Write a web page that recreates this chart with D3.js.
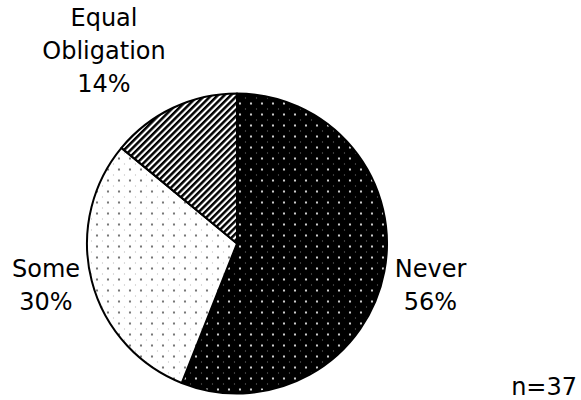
<!DOCTYPE html>
<html>
<head>
<meta charset="utf-8">
<script src="https://cdn.jsdelivr.net/npm/d3@7"></script>
<style>
  html, body { margin: 0; padding: 0; background: #fff; }
  svg { display: block; }
  text { font-family: "DejaVu Sans", Verdana, sans-serif; font-size: 24px; fill: #000; }
</style>
</head>
<body>
<svg id="chart" width="581" height="400"></svg>
<script>
// Answers (in drawing order, clockwise from 12 o'clock)
const categories = ["Never", "Some", "Equal Obligation"];
const percents = [56, 30, 14];
const patterns = ["dotsDark", "dotsLight", "hatch"];
// Label lines per slice (category words + value)
const labelLines = [["Never"], ["Some"], ["Equal", "Obligation"]];
const sampleNote = "n=37";

const svg = d3.select("#chart");
const defs = svg.append("defs");

// Black field with white dots
const pd = defs.append("pattern").attr("id", "dotsDark")
  .attr("patternUnits", "userSpaceOnUse").attr("width", 11).attr("height", 11);
pd.append("rect").attr("width", 11).attr("height", 11).attr("fill", "#000");
pd.append("circle").attr("cx", 3).attr("cy", 3).attr("r", 1.1).attr("fill", "#fff");
pd.append("circle").attr("cx", 8.5).attr("cy", 8.5).attr("r", 0.6).attr("fill", "#888");

// White field with grey dots
const pl = defs.append("pattern").attr("id", "dotsLight")
  .attr("patternUnits", "userSpaceOnUse").attr("width", 11).attr("height", 11);
pl.append("rect").attr("width", 11).attr("height", 11).attr("fill", "#fff");
pl.append("circle").attr("cx", 3).attr("cy", 3).attr("r", 1.1).attr("fill", "#555");
pl.append("circle").attr("cx", 8.5).attr("cy", 8.5).attr("r", 0.6).attr("fill", "#aaa");

// Diagonal stripes
const ph = defs.append("pattern").attr("id", "hatch")
  .attr("patternUnits", "userSpaceOnUse").attr("width", 4.6).attr("height", 4.6)
  .attr("patternTransform", "rotate(45)");
ph.append("rect").attr("width", 4.6).attr("height", 4.6).attr("fill", "#fff");
ph.append("rect").attr("x", 0).attr("width", 2.5).attr("height", 4.6).attr("fill", "#000");

const cx = 237, cy = 243.5, r = 150;

const data = categories.map((c, i) => ({ name: c, value: percents[i], pattern: patterns[i], lines: labelLines[i] }));

const pie = d3.pie().sort(null).value(d => d.value).startAngle(0).endAngle(2 * Math.PI);
const arc = d3.arc().innerRadius(0).outerRadius(r);

const g = svg.append("g").attr("transform", `translate(${cx},${cy})`);
g.selectAll("path.slice")
  .data(pie(data))
  .join("path")
  .attr("class", "slice")
  .attr("d", arc)
  .attr("fill", d => `url(#${d.data.pattern})`)
  .attr("stroke", "#000")
  .attr("stroke-width", 2)
  .attr("stroke-linejoin", "round");

// Label anchors (centre x, first baseline)
const labelPos = [
  { x: 430.5, y: 277 },
  { x: 46, y: 277 },
  { x: 104, y: 26 }
];
const lineH = 32.8;

data.forEach((d, i) => {
  const t = svg.append("text")
    .attr("text-anchor", "middle")
    .attr("x", labelPos[i].x)
    .attr("y", labelPos[i].y);
  const lines = d.lines.concat([d.value + "%"]);
  lines.forEach((ln, j) => {
    t.append("tspan").attr("x", labelPos[i].x).attr("dy", j === 0 ? 0 : lineH).text(ln);
  });
});

svg.append("text")
  .attr("x", 577).attr("y", 395)
  .attr("text-anchor", "end")
  .text(sampleNote);
</script>
</body>
</html>
